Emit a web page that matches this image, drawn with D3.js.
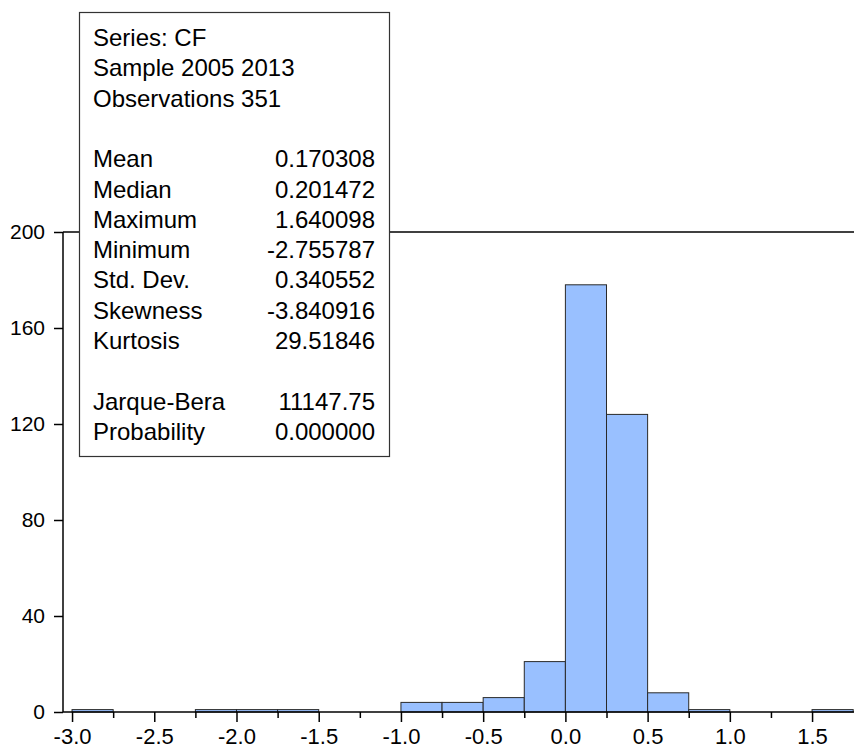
<!DOCTYPE html>
<html>
<head>
<meta charset="utf-8">
<script src="https://cdn.jsdelivr.net/npm/d3@7"></script>
<style>
  body { margin: 0; background: #fff; }
  svg text { font-family: Arial, "Liberation Sans", sans-serif; fill: #000; }
</style>
</head>
<body>
<div class="hist"></div>
<script>
var svgWidth = 854;
var svgHeight = 749;

// histogram bins (lower edges, width 0.25) and counts
var binStarts = [-3.0, -2.75, -2.5, -2.25, -2.0, -1.75, -1.5, -1.25, -1.0, -0.75,
                 -0.5, -0.25, 0.0, 0.25, 0.5, 0.75, 1.0, 1.25, 1.5];
var binCounts = [1, 0, 0, 1, 1, 1, 0, 0, 4, 4, 6, 21, 178, 124, 8, 1, 0, 0, 1];
var binWidth = 0.25;

var xTicks = [-3.0, -2.5, -2.0, -1.5, -1.0, -0.5, 0.0, 0.5, 1.0, 1.5];
var xMinorTicks = [-2.75, -2.25, -1.75, -1.25, -0.75, -0.25, 0.25, 0.75, 1.25];
var yTicks = [0, 40, 80, 120, 160, 200];

// stats box
var headerLines = ["Series: CF", "Sample 2005 2013", "Observations 351"];
var statNames = ["Mean", "Median", "Maximum", "Minimum", "Std. Dev.", "Skewness", "Kurtosis"];
var statValues = ["0.170308", "0.201472", "1.640098", "-2.755787", "0.340552", "-3.840916", "29.51846"];
var testNames = ["Jarque-Bera", "Probability"];
var testValues = ["11147.75", "0.000000"];

var svg = d3.select(".hist")
  .append("svg")
  .attr("width", svgWidth)
  .attr("height", svgHeight);

var x = d3.scaleLinear()
  .domain([-3.055, 1.755])
  .range([63, 854]);

var y = d3.scaleLinear()
  .domain([0, 200])
  .range([712, 232]);

var bins = binStarts.map((s, i) => ({ start: s, count: binCounts[i] }))
  .filter(d => d.count > 0);

// bars
svg.append("g")
  .selectAll("rect")
  .data(bins)
  .enter()
  .append("rect")
  .attr("x", d => x(d.start))
  .attr("y", d => y(d.count))
  .attr("width", d => x(d.start + binWidth) - x(d.start))
  .attr("height", d => y(0) - y(d.count))
  .attr("fill", "#99c0ff")
  .attr("stroke", "#2a2a2a")
  .attr("stroke-width", 1);

// y axis
var leftAxis = d3.axisLeft(y)
  .tickValues(yTicks)
  .tickSize(9)
  .tickPadding(9)
  .tickFormat(d => String(d));

var yAxis = svg.append("g")
  .attr("transform", "translate(63,0)")
  .call(leftAxis);

// bottom axis, major and minor ticks
var bottomAxis = d3.axisBottom(x)
  .tickValues(xTicks)
  .tickSize(10)
  .tickPadding(6)
  .tickFormat(d => d.toFixed(1));

var xAxis = svg.append("g")
  .attr("transform", "translate(0,712)")
  .call(bottomAxis);

var minorAxis = svg.append("g")
  .attr("transform", "translate(0,712)")
  .call(d3.axisBottom(x).tickValues(xMinorTicks).tickSize(6).tickFormat(""));
minorAxis.select(".domain").remove();

[yAxis, xAxis, minorAxis].forEach(function(ax) {
  ax.selectAll("path, line").attr("stroke", "#000").attr("stroke-width", 1.5);
  ax.selectAll("text").attr("font-family", "Arial, 'Liberation Sans', sans-serif");
});
xAxis.selectAll("text").attr("font-size", 22);
yAxis.selectAll("text").attr("font-size", 21);
xAxis.select(".domain").attr("d", "M63,0H854");
yAxis.select(".domain").attr("d", "M0,232V712");

// top frame line
svg.append("line")
  .attr("x1", 63)
  .attr("x2", 854)
  .attr("y1", y(200))
  .attr("y2", y(200))
  .attr("stroke", "#000")
  .attr("stroke-width", 1.5);

// statistics box
var box = svg.append("g");
box.append("rect")
  .attr("x", 79.5)
  .attr("y", 12.5)
  .attr("width", 310)
  .attr("height", 444)
  .attr("fill", "#fff")
  .attr("stroke", "#333")
  .attr("stroke-width", 1.2);

var lineStep = 30.3;
var firstBase = 46;
var textLeft = 93;
var textRight = 375;
var boxFont = 24;

headerLines.forEach(function(t, i) {
  box.append("text")
    .attr("x", textLeft)
    .attr("y", firstBase + i * lineStep)
    .attr("font-size", boxFont)
    .text(t);
});

function statRow(name, value, row) {
  box.append("text")
    .attr("x", textLeft)
    .attr("y", firstBase + row * lineStep)
    .attr("font-size", boxFont)
    .text(name);
  box.append("text")
    .attr("x", textRight)
    .attr("y", firstBase + row * lineStep)
    .attr("font-size", boxFont)
    .attr("text-anchor", "end")
    .text(value);
}

statNames.forEach((n, i) => statRow(n, statValues[i], 4 + i));
testNames.forEach((n, i) => statRow(n, testValues[i], 12 + i));
</script>
</body>
</html>
